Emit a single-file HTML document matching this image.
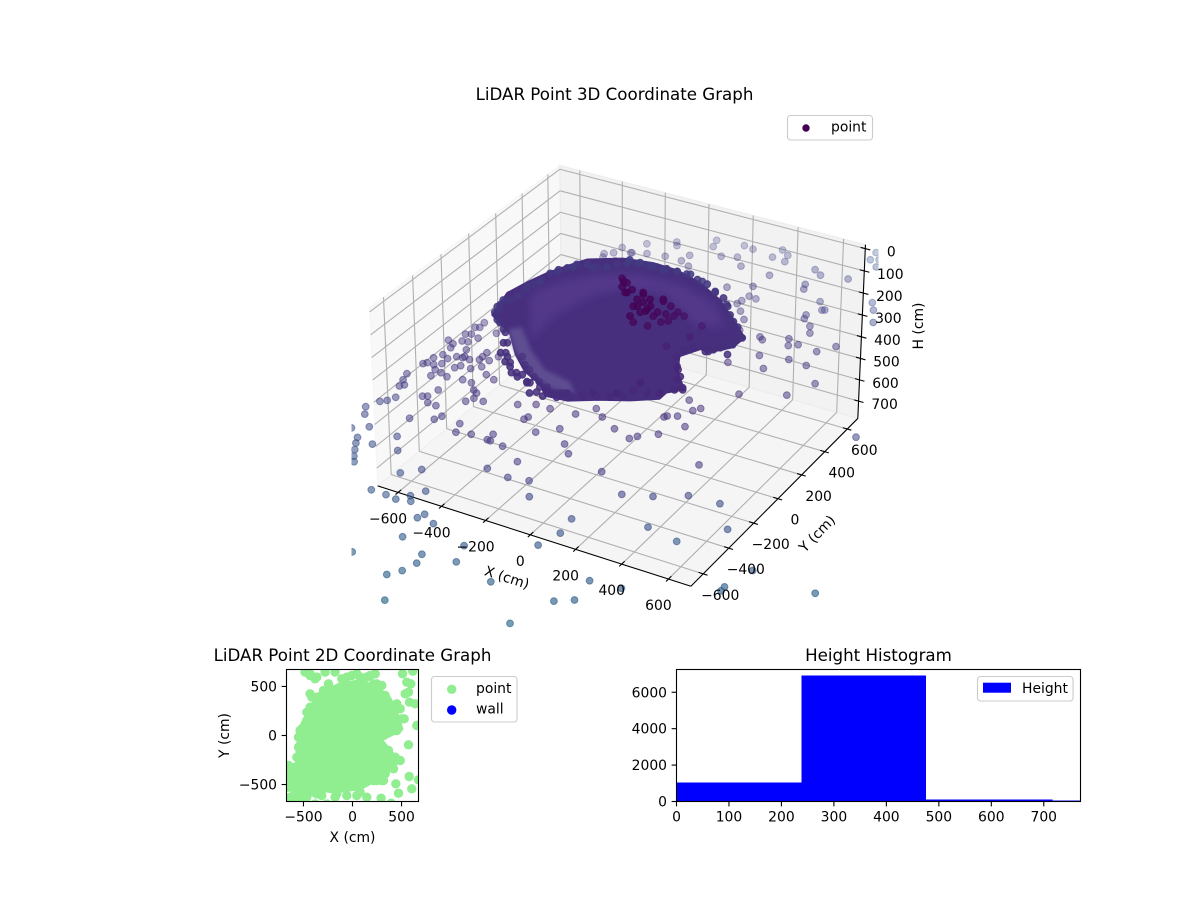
<!DOCTYPE html>
<html lang="en">
<head>
<meta charset="utf-8">
<title>LiDAR Point Graphs</title>
<style>
html,body{margin:0;padding:0;background:#fff;}
svg{display:block;font-family:"DejaVu Sans","Liberation Sans",sans-serif;}
text{fill:#000;}
</style>
</head>
<body>
<svg id="figure" xmlns="http://www.w3.org/2000/svg" width="1200" height="900" viewBox="0 0 1200 900">
  <defs>
    <clipPath id="clip3d"><rect x="351.5" y="108" width="527" height="527"/></clipPath>
    <clipPath id="clipPlan"><rect x="286.5" y="669.5" width="132" height="132"/></clipPath>
    <clipPath id="clipHist"><rect x="676.5" y="669.5" width="404" height="132"/></clipPath>
    <filter id="softBand" x="-20%" y="-20%" width="140%" height="140%"><feGaussianBlur stdDeviation="4"/></filter>
    <filter id="softLower" x="-20%" y="-20%" width="140%" height="140%"><feGaussianBlur stdDeviation="2"/></filter>
  </defs>
  <rect width="1200" height="900" fill="#fff"/>

  <g id="chart3d">
    <text x="614.5" y="100" font-size="16.67" text-anchor="middle">LiDAR Point 3D Coordinate Graph</text>
    <g id="panes3d"></g>
    <g id="grid3d"></g>
    <g id="axes3d"></g>
    <g id="marks3d" clip-path="url(#clip3d)"></g>
    <g id="labels3d"></g>
    <g>
      <rect x="787.5" y="115.5" width="85" height="24.5" rx="3" fill="#fff" fill-opacity="0.8" stroke="#ccc" stroke-width="1.1"/>
      <circle cx="806" cy="128" r="3.7" fill="#440154"/>
      <text x="831" y="131.5" font-size="13.9">point</text>
    </g>
  </g>

  <g id="chartPlan">
    <text x="352.5" y="661" font-size="16.67" text-anchor="middle">LiDAR Point 2D Coordinate Graph</text>
    <g id="marksPlan" clip-path="url(#clipPlan)"></g>
    <rect x="286.5" y="669.5" width="132" height="132" fill="none" stroke="#000" stroke-width="1.1"/>
    <g id="ticksPlan"></g>
    <text x="352.5" y="842" font-size="13.9" text-anchor="middle">X (cm)</text>
    <text transform="translate(229,735.5) rotate(-90)" font-size="13.9" text-anchor="middle">Y (cm)</text>
    <g>
      <rect x="431.5" y="676.5" width="85.5" height="45.5" rx="3" fill="#fff" fill-opacity="0.8" stroke="#ccc" stroke-width="1.1"/>
      <circle cx="451.7" cy="689.3" r="4.7" fill="#90ee90"/>
      <text x="476" y="693" font-size="13.9">point</text>
      <circle cx="451.7" cy="710" r="4.7" fill="#0000ff"/>
      <text x="476" y="713.5" font-size="13.9">wall</text>
    </g>
  </g>

  <g id="chartHist">
    <text x="878.5" y="661" font-size="16.67" text-anchor="middle">Height Histogram</text>
    <g id="barsHist" clip-path="url(#clipHist)" shape-rendering="crispEdges"></g>
    <rect x="676.5" y="669.5" width="404" height="132" fill="none" stroke="#000" stroke-width="1.1"/>
    <g id="ticksHist"></g>
    <g>
      <rect x="977.5" y="676.5" width="95.5" height="24.5" rx="3" fill="#fff" fill-opacity="0.8" stroke="#ccc" stroke-width="1.1"/>
      <rect x="983" y="682.7" width="28" height="10" fill="#0000ff"/>
      <text x="1022" y="693" font-size="13.9">Height</text>
    </g>
  </g>
</svg>

<script>
// ---------- 3D chart data (cm) ----------
const axisTicks3d = [-600,-400,-200,0,200,400,600];
const heightTicks3d = [0,100,200,300,400,500,600,700];
const xLimit3d = [-695,695];
const yLimit3d = [-695,695];
const hLimit3d = [-18,782];

const sparseX = [
-690,-658,-649,-639,-657,-615,-653,-637,-642,-637,
-597,-555,-587,-563,-590,-566,-646,-613,-664,-665,
-675,-634,-611,-608,-576,-597,-539,-551,-539,-535,
-493,-501,-503,-505,-464,-464,-449,-416,-370,-474,
-432,-395,-373,-361,-376,-318,-513,-523,-540,-496,
-457,-686,-673,-659,-647,-624,-639,-659,-684,
-656,-589,-643,-584,-567,-509,-544,-521,-498,-460,
-402,-307,-252,-334,-270,-222,-189,-167,-158,-86,
-76,-15,-63,-163,58,73,55,22,189,157,
104,360,611,669,551,654,773,382,410,397,
471,188,131,51,-47,24,159,111,329,-81,
-141,-155,-157,-228,-286,-307,-395,-407,-492,-114,
-109,35,39,-27,134,217,300,319,-192,-131,
-69,83,
1030,616,809,914,684,576,661,795,1115,1078,1079,1368,379,336,343,377,439,408,426,
169,203,624,655,699,438,476,486,439,447,495,520,242,197,268,363,382,469,492,522,
610,658,430,544,349,624,491,718,501,663,358,156,161];
const sparseY = [
-175,-191,-222,-154,-101,-149,-36,-27,15,-89,
-103,-34,-205,-254,-270,-265,-283,-300,-322,-366,
-381,-367,-344,-397,-405,-444,-420,-346,-321,-264,
-321,-245,-219,-184,-232,-287,-188,-330,-349,-409,
-412,-454,-468,-506,-541,-508,-522,-581,-591,-621,
-625,-478,-524,-571,-554,-649,-685,-705,-765,
-812,-881,-921,-967,-1003,-979,-1044,-1084,-1116,-887,
-970,-1096,-1037,-1246,-1246,-1254,-1208,-1239,-1154,-1319,
-1287,-1323,-1450,-1620,-1510,-1566,-1631,-1678,-1490,-1389,
-1813,-1535,-1527,-1486,-1717,-1358,-1343,-1255,-1149,-1049,
-817,-998,-906,-925,-910,-814,-673,-620,-719,-749,
-739,-738,-694,-735,-751,-691,-679,-713,-753,-543,
-521,-412,-535,-601,-381,-432,-465,-437,-462,-427,
-427,-339,
-33,-499,-694,-830,-703,-773,-959,-989,-1018,-1157,-1184,-1035,-384,-264,-252,-233,-286,-169,-140,
736,730,937,883,791,839,780,786,713,682,637,588,555,609,470,462,446,506,456,482,
470,543,330,360,221,352,248,244,28,113,-107,657,688];
const sparseH = [
380,380,380,380,380,380,380,380,380,380,
380,380,380,380,380,380,380,380,380,380,
380,380,380,380,380,380,380,380,380,380,
380,380,380,380,380,380,380,380,380,380,
380,380,380,380,380,380,380,380,380,380,
380,380,380,380,380,380,380,380,380,380,
380,380,380,380,380,380,380,380,380,380,
380,380,380,380,380,380,380,380,380,380,
380,380,380,380,380,380,380,380,380,380,
380,380,380,380,380,380,380,380,380,380,
380,380,380,380,380,380,380,380,380,380,
380,380,380,380,380,380,380,380,380,380,
380,380,380,380,380,380,380,380,380,380,
380,380,380,380,380,380,380,380,380,380,
380,380,380,380,380,380,380,380,380,380,
380,380,380,380,380,380,380,380,380,380,
380,380,380,380,380,380,380,380,380,380,
380,380,380,380,380,380,380,380,380,380,
380,380,380];

const backX = [-340,-241,-225,-106,-92,15,60,169,209,223,162,38,-23,87,224,-138,-145,-221,-297,-359,-98,362,402,513,384,397,210,123,511,518,549,566,-412,-419,-354,-449,-437,-378,-330];
const backY = [794,869,842,965,909,981,971,1025,994,940,949,877,851,816,804,793,735,736,719,693,709,939,908,935,808,770,688,630,1196,1128,1146,1084,715,657,695,631,602,600,628];
const backH = [300,300,300,300,300,300,300,300,300,300,300,300,300,300,300,300,300,300,300,300,300,300,300,300,300,300,300,300,300,300,300,300,300,300,300,300,300,300,300];

const domeOutlineX = [-650,-696,-672,-643,-603,-561,-437,-309,-194,-59,83,190,316,311,253,208,164,220,306,257,257,165,60,-40,-135,-195,-300,-400,-505];
const domeOutlineY = [83,272,394,501,596,684,765,793,788,740,651,551,426,333,255,255,167,55,-48,-103,-158,-225,-280,-345,-357,-293,-236,-142,-13];
const domeBandX = [-604,-557,-448,-306,-125,83,206,94,-132,-301,-387,-431,-410];
const domeBandY = [308,460,596,678,684,606,462,423,581,546,415,209,-12];
const domeLowerX = [-531,-422,-283,-150,-46,-109,-240,-368,-492];
const domeLowerY = [17,-110,-226,-293,-279,-216,-184,-78,57];
const domeHeight = 380;

const rimX = [-668,-676,-652,-640,-649,-628,-610,-576,-501,-455,-647,-610,-548,-477,-441,-385,-323,-247,-187,-120,-73,12,92,-405,-356,-297,-244,-186,-127,-55,35,123,210,299,299,268,242,318,208,243,299,234,131];
const rimY = [153,212,226,268,354,419,529,594,629,664,139,61,7,-77,-147,-204,-259,-305,-307,-322,-294,-245,-199,765,766,764,759,775,781,751,695,630,508,416,353,308,258,275,75,6,-52,-117,-87];
const rimH = [380,380,380,380,380,380,380,380,380,380,380,380,380,380,380,380,380,380,380,380,380,380,380,380,380,380,380,380,380,380,380,380,380,380,380,380,380,380,380,380,380,380,380];

const edgeX = [-651,-666,-659,-643,-650,-640,-629,-629,-615,-592,-574,-537,-489,-455,-429,-399,-362,-317,-276,-235,-186,-141,-80,-27,31,86,134,176,213,250,306,291,274,252,232,177,151,154,193,242,291,272,234,193,134,124,84,37,-11,-51,-97,-152,-178,-198,-251,-303,-369,-419,-490,-529,-588,-458,-406,-340,-295,-368,-327,-291,-246,-210,-163,-237,-142,-92,-86];
const edgeY = [109,173,222,266,326,386,437,500,544,576,622,644,644,664,706,732,753,753,767,774,775,774,755,741,702,671,618,560,519,487,420,367,321,280,252,255,222,161,94,32,-38,-68,-117,-140,-148,-207,-239,-258,-277,-308,-308,-313,-346,-366,-298,-284,-231,-170,-85,-9,46,-157,-208,-268,-261,-141,-189,-213,-251,-275,-293,-299,-361,-341,-302];
const edgeH = [380,380,380,380,380,380,380,380,380,380,380,380,380,380,380,380,380,380,380,380,380,380,380,380,380,380,380,380,380,380,380,380,380,380,380,380,380,380,380,380,380,380,380,380,380,380,380,380,380,380,380,380,380,380,380,380,380,380,380,380,380,380,380,380,380,380,380,380,380,380,380,380,380,380,380];

const coreX = [-86,-29,53,81,115,40,-17,134,178,67,158,206,226,-61,-62,82,113,192,-22,32,111,126,177,226,224,260,356,358,316,39,71,110,157,100,-97,-75];
const coreY = [157,74,-6,-79,-114,95,108,87,67,2,-35,-61,4,145,108,75,-16,3,78,109,2,100,-113,-40,39,24,-10,-107,-213,49,41,28,0,-33,169,146];
const coreH = [100,100,100,100,100,100,100,100,100,100,100,100,100,100,100,100,100,100,100,100,100,100,100,100,100,100,100,100,100,100,100,100,100,100,100,100];

// ---------- 2D chart data (cm) ----------
const planTicks = [-500,0,500];
const planLimit = [-673,673];
const planBlobX = [-415,-347,-126,78,248,367,435,486,350,265,350,452,384,265,78,-194,-432,-568,-551,-534,-500];
const planBlobY = [272,408,510,544,476,374,238,68,0,-34,-136,-255,-340,-425,-527,-561,-527,-425,-187,17,119];
const planX = [-483,-432,-364,-279,-177,-58,44,146,231,248,299,510,615,554,595,-245,-432,-296,452,486,527,537,571,581,639,656,452,571,486,418,578,673,605,442,469,316,248,292,394,-636,-653,-602,-636,-568,-466,-364,-313,-177,-58,44,146,78,-262,-381,-534,-517,-534,-534,-466,-364,-568,-619,-534,
-636,-585,-534,-466,-398,-653,-585,-500,-653,-585,-534,-619,-534,-177,-160,-432,-381,-109,-7,78,180,214,333,401,452,503,452,384,316,367,435,401,333,299,214,-466,-517,-415,-432,-551,-551,-568];
const planY = [646,612,595,646,646,595,629,595,629,527,510,629,656,544,527,527,425,459,323,272,170,425,442,340,323,102,51,-95,-255,-340,-418,-452,-544,-493,-588,-459,-459,-639,-690,-323,-425,-527,-629,-629,-629,-595,-612,-544,-612,-612,-629,-578,-697,-697,51,-51,-153,-255,238,391,-357,-459,-527,
-391,-459,-561,-561,-578,-527,-578,-612,-306,-323,-374,-663,-680,-629,-595,629,578,578,612,595,612,527,408,306,289,170,102,51,0,-153,-221,-306,-391,-459,-459,153,68,391,289,-17,-119,-221];

// ---------- Histogram data ----------
const histEdges = [0,238,476,717,955];
const histCounts = [1040,6920,110,55];
const histXTicks = [0,100,200,300,400,500,600,700];
const histYTicks = [0,2000,4000,6000];

// ---------- helpers ----------
const SVGNS = 'http://www.w3.org/2000/svg';
function make(tag, attrs, parent){
  const node = document.createElementNS(SVGNS, tag);
  for (const k in attrs) node.setAttribute(k, attrs[k]);
  parent.appendChild(node);
  return node;
}
function fmt(v){ return String(v).replace('-', '\u2212'); }

// ---------- 3D projection (elev 30, azim -60, perspective) ----------
const HALF_XY = 0.5714, HALF_Z = 0.325, VIEW_DIST = 10, SCALE3D = 3125, ORIGIN_U = 622, ORIGIN_V = 365;
function proj(x, y, h){
  const dx = HALF_XY * (2*(x - xLimit3d[0])/(xLimit3d[1]-xLimit3d[0]) - 1);
  const dy = HALF_XY * (2*(y - yLimit3d[0])/(yLimit3d[1]-yLimit3d[0]) - 1);
  const dz = HALF_Z * (1 - 2*(h - hLimit3d[0])/(hLimit3d[1]-hLimit3d[0]));
  const a = 0.866*dx + 0.5*dy;
  const b = -0.25*dx + 0.433*dy + 0.866*dz;
  const c = 0.433*dx - 0.75*dy + 0.5*dz;
  const w = VIEW_DIST - c;
  return {u: ORIGIN_U + SCALE3D*a/w, v: ORIGIN_V - SCALE3D*b/w, c: c};
}

// viridis lower range, distance-driven
const ramp = [[68,1,84],[72,36,117],[65,68,135],[53,95,141],[42,120,142]];
function colorFor(x, y, h){
  const d = Math.sqrt(x*x + y*y + h*h);
  const dStops = [150,500,900,1300,1800], tStops = [0,0.13,0.17,0.27,0.33];
  let t = 0.35;
  if (d <= dStops[0]) t = 0;
  else if (d < dStops[4]) {
    for (let i = 0; i < 4; i++) {
      if (d >= dStops[i] && d < dStops[i+1]) t = tStops[i] + (tStops[i+1]-tStops[i])*(d-dStops[i])/(dStops[i+1]-dStops[i]);
    }
  }
  const f = Math.min(t/0.1, 3.99), i = Math.floor(f), r = f - i;
  const a = ramp[i], b = ramp[i+1];
  return 'rgb(' + Math.round(a[0]+(b[0]-a[0])*r) + ',' + Math.round(a[1]+(b[1]-a[1])*r) + ',' + Math.round(a[2]+(b[2]-a[2])*r) + ')';
}
function alphaFor(c){
  if (c < -0.14) return Math.max(0.28, 0.48 + (c + 0.14)*0.45);
  return Math.min(0.66, 0.48 + (c + 0.14)*0.14);
}

function pts(list){ return list.map(p => p.u.toFixed(1)+','+p.v.toFixed(1)).join(' '); }

// ---------- panes ----------
const panes = document.getElementById('panes3d');
const xa = xLimit3d[0], xb = xLimit3d[1], ya = yLimit3d[0], yb = yLimit3d[1], top3 = hLimit3d[0], bot3 = hLimit3d[1];
const leftPane = make('polygon', {points: pts([proj(xa,ya,bot3),proj(xa,yb,bot3),proj(xa,yb,top3),proj(xa,ya,top3)]), fill:'rgb(242,242,242)', 'fill-opacity':0.5, stroke:'rgb(242,242,242)', 'stroke-opacity':0.5, 'stroke-width':1.1}, panes);


const backPane = make('polygon', {points: pts([proj(xa,yb,bot3),proj(xb,yb,bot3),proj(xb,yb,top3),proj(xa,yb,top3)]), fill:'rgb(230,230,230)', 'fill-opacity':0.5, stroke:'rgb(230,230,230)', 'stroke-opacity':0.5, 'stroke-width':1.1}, panes);


const floorPane = make('polygon', {points: pts([proj(xa,ya,bot3),proj(xb,ya,bot3),proj(xb,yb,bot3),proj(xa,yb,bot3)]), fill:'rgb(236,236,236)', 'fill-opacity':0.5, stroke:'rgb(236,236,236)', 'stroke-opacity':0.5, 'stroke-width':1.1}, panes);



// ---------- grid ----------
const grid = document.getElementById('grid3d');
function gridLine(p, q, name){
  const line = make('line', {x1:p.u, y1:p.v, x2:q.u, y2:q.v, stroke:'#b0b0b0', 'stroke-width':1.1}, grid);
  
  
}
axisTicks3d.forEach(t => {
  gridLine(proj(t,ya,bot3), proj(t,yb,bot3), 'floor-gridline-x');
  gridLine(proj(t,yb,bot3), proj(t,yb,top3), 'back-wall-gridline-x');
  gridLine(proj(xa,t,bot3), proj(xb,t,bot3), 'floor-gridline-y');
  gridLine(proj(xa,t,bot3), proj(xa,t,top3), 'left-wall-gridline-y');
});
heightTicks3d.forEach(t => {
  gridLine(proj(xa,ya,t), proj(xa,yb,t), 'left-wall-gridline-h');
  gridLine(proj(xa,yb,t), proj(xb,yb,t), 'back-wall-gridline-h');
});

// ---------- axes + ticks ----------
const axes3 = document.getElementById('axes3d');
function axisStroke(p, q, name){
  const line = make('line', {x1:p.u, y1:p.v, x2:q.u, y2:q.v, stroke:'#000', 'stroke-width':1.1}, axes3);
  
  
}
axisStroke(proj(xa,ya,bot3), proj(xb,ya,bot3), 'x-axis-line');
axisStroke(proj(xb,ya,bot3), proj(xb,yb,bot3), 'y-axis-line');
axisStroke(proj(xb,yb,bot3), proj(xb,yb,top3), 'h-axis-line');

const labels3 = document.getElementById('labels3d');
function label3(str, u, v, name){
  const t = make('text', {x:u, y:v, 'font-size':13.9, 'text-anchor':'middle'}, labels3);
  t.textContent = str;
  
  
}
axisTicks3d.forEach(t => {
  axisStroke(proj(t,ya+22,bot3), proj(t,ya-18,bot3), 'x-axis-tick');
  const p = proj(t,ya,bot3);
  label3(fmt(t), p.u - 10, p.v + 31, 'x-axis-tick-label');
  axisStroke(proj(xb-20,t,bot3), proj(xb+18,t,bot3), 'y-axis-tick');
  const q = proj(xb,t,bot3);
  label3(fmt(t), q.u + 17, q.v + 26, 'y-axis-tick-label');
});
heightTicks3d.forEach(t => {
  axisStroke(proj(xb-20,yb,t), proj(xb+22,yb,t), 'h-axis-tick');
  const p = proj(xb,yb,t);
  label3(fmt(t), p.u + 26, p.v + 8, 'h-axis-tick-label');
});
function rotatedTitle(str, u, v, deg, name){
  const t = make('text', {transform:'translate('+u+','+v+') rotate('+deg+')', 'font-size':13.9, 'text-anchor':'middle'}, labels3);
  t.textContent = str;
  
  
}
rotatedTitle('X (cm)', 505.5, 582, 18, 'x-axis-title');
rotatedTitle('Y (cm)', 820.5, 537, -46, 'y-axis-title');
rotatedTitle('H (cm)', 923, 326, -90, 'h-axis-title');

// ---------- point cloud ----------
const marks3 = document.getElementById('marks3d');
function scatterGroup(xs, ys, hs, forced){
  const list = xs.map((x,i) => ({x:x, y:ys[i], h:hs[i], p:proj(x,ys[i],hs[i])}));
  list.sort((m,n) => m.p.c - n.p.c);
  list.forEach(m => {
    const col = colorFor(m.x,m.y,m.h);
    const alpha = forced || alphaFor(m.p.c).toFixed(2);
    const dot = make('circle', {cx:m.p.u.toFixed(1), cy:m.p.v.toFixed(1), r:3.4, fill:col, 'fill-opacity':alpha, stroke:col, 'stroke-opacity':alpha, 'stroke-width':1}, marks3);
    
    
  });
}
scatterGroup(backX, backY, backH);
scatterGroup(sparseX, sparseY, sparseH);
scatterGroup(edgeX, edgeY, edgeH, 0.7);
const domeBody = make('polygon', {points: pts(domeOutlineX.map((x,i) => proj(x, domeOutlineY[i], domeHeight))), fill:'#472f7e', stroke:'#472f7e', 'stroke-width':1, 'stroke-linejoin':'round'}, marks3);


const domeBand = make('polygon', {points: pts(domeBandX.map((x,i) => proj(x, domeBandY[i], domeHeight))), fill:'#52398a', filter:'url(#softBand)'}, marks3);


const domeLower = make('polygon', {points: pts(domeLowerX.map((x,i) => proj(x, domeLowerY[i], domeHeight))), fill:'#5f4d92', filter:'url(#softLower)'}, marks3);


scatterGroup(edgeX, edgeY, edgeH, 0.55);
scatterGroup(rimX, rimY, rimH, 0.85);
scatterGroup(coreX, coreY, coreH, 0.75);

// ---------- 2D plan scatter ----------
function planU(x){ return 286.5 + 132*(x - planLimit[0])/(planLimit[1]-planLimit[0]); }
function planV(y){ return 801.5 - 132*(y - planLimit[0])/(planLimit[1]-planLimit[0]); }
const marksPlan = document.getElementById('marksPlan');
const planBlob = make('polygon', {points: planBlobX.map((x,i) => planU(x).toFixed(1)+','+planV(planBlobY[i]).toFixed(1)).join(' '), fill:'#90ee90', stroke:'#90ee90', 'stroke-width':6, 'stroke-linejoin':'round'}, marksPlan);


planX.forEach((x,i) => {
  const dot = make('circle', {cx:planU(x).toFixed(1), cy:planV(planY[i]).toFixed(1), r:4.7, fill:'#90ee90'}, marksPlan);
  
  
});
const ticksPlan = document.getElementById('ticksPlan');
planTicks.forEach(t => {
  const u = planU(t), v = planV(t);
  const tx = make('line', {x1:u, y1:801.5, x2:u, y2:806.4, stroke:'#000', 'stroke-width':1.1}, ticksPlan);
  
  
  const lx = make('text', {x:u, y:821.5, 'font-size':13.9, 'text-anchor':'middle'}, ticksPlan);
  lx.textContent = fmt(t);
  
  
  const ty = make('line', {x1:281.6, y1:v, x2:286.5, y2:v, stroke:'#000', 'stroke-width':1.1}, ticksPlan);
  
  
  const ly = make('text', {x:277, y:v+5, 'font-size':13.9, 'text-anchor':'end'}, ticksPlan);
  ly.textContent = fmt(t);
  
  
});

// ---------- histogram ----------
const HIST_X_MAX = 770, HIST_Y_MAX = 7250;
function histU(v){ return 676.5 + 404*v/HIST_X_MAX; }
function histV(c){ return 801.5 - 132*c/HIST_Y_MAX; }
const barsHist = document.getElementById('barsHist');
histCounts.forEach((c,i) => {
  const bar = make('rect', {x:histU(histEdges[i]), y:histV(c), width:histU(histEdges[i+1])-histU(histEdges[i]), height:histV(0)-histV(c), fill:'#0000ff'}, barsHist);
  
  
});
const ticksHist = document.getElementById('ticksHist');
histXTicks.forEach(t => {
  const u = histU(t);
  const tick = make('line', {x1:u, y1:801.5, x2:u, y2:806.4, stroke:'#000', 'stroke-width':1.1}, ticksHist);
  
  
  const lab = make('text', {x:u, y:821.5, 'font-size':13.9, 'text-anchor':'middle'}, ticksHist);
  lab.textContent = fmt(t);
  
  
});
histYTicks.forEach(t => {
  const v = histV(t);
  const tick = make('line', {x1:671.6, y1:v, x2:676.5, y2:v, stroke:'#000', 'stroke-width':1.1}, ticksHist);
  
  
  const lab = make('text', {x:667, y:v+5, 'font-size':13.9, 'text-anchor':'end'}, ticksHist);
  lab.textContent = fmt(t);
  
  
});
</script>
</body>
</html>
